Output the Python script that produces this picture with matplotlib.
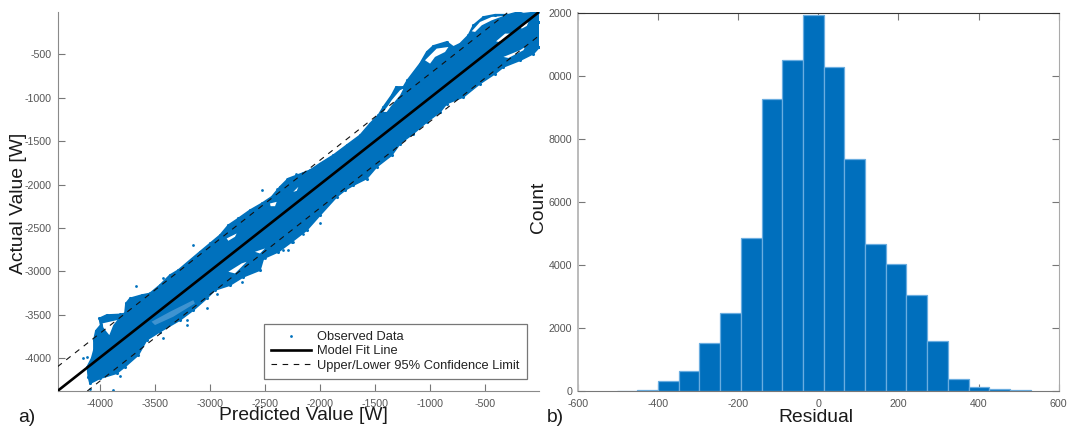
import matplotlib
matplotlib.use('Agg')
import matplotlib.pyplot as plt

plt.rcParams['font.family'] = ['Liberation Sans', 'DejaVu Sans']
plt.rcParams['axes.unicode_minus'] = False

W, H = 1075, 432
BLUE = '#0071BD'

# outline of the observed cloud (too dense to read single points)
upper_edge_x = [-4106, -4115, -4076, -4055, -4055, -4037, -3994, -4006, -3940, -3818, -3773, -3764,
                -3727, -3621, -3546, -3455, -3364, -3288, -3091, -3000, -2909, -2833, -2743, -2636,
                -2530, -2439, -2364, -2288, -2152, -2091, -2000, -1879, -1758, -1636, -1545, -1470,
                -1424, -1349, -1309, -1242, -1206, -1091, -1030, -970, -849, -788, -727, -652,
                -606, -515, -409, -288, -197, -152, -15, -6]
upper_edge_y = [-4215, -4100, -4004, -3908, -3792, -3685, -3620, -3543, -3504, -3497, -3485, -3370,
                -3312, -3274, -3255, -3159, -3044, -2986, -2775, -2679, -2583, -2468, -2391, -2295,
                -2218, -2141, -2026, -1930, -1865, -1834, -1757, -1661, -1546, -1431, -1296, -1200,
                -1104, -970, -874, -874, -797, -605, -471, -401, -355, -413, -375, -279,
                -163, -67, -41, -41, -10, -29, -10, -125]
lower_edge_x = [-6, -61, -182, -333, -409, -546, -697, -849, -909, -1030, -1152, -1273, -1349, -1485,
                -1576, -1697, -1773, -1849, -2000, -2121, -2258, -2379, -2515, -2546, -2697, -2818,
                -2955, -3031, -3152, -3273, -3455, -3576, -3652, -3773, -3849, -4000, -4091]
lower_edge_y = [-413, -490, -567, -643, -720, -835, -989, -1066, -1162, -1277, -1411, -1527, -1661, -1795,
                -1930, -2007, -2064, -2141, -2352, -2525, -2660, -2775, -2852, -2986, -3063, -3159,
                -3216, -3312, -3447, -3562, -3696, -3792, -3965, -4100, -4176, -4234, -4292]

# white gaps inside the cloud
gaps = [
    ([-3976, -3843, -3879, -3915, -3940, -3970], [-3600, -3562, -3620, -3735, -3696, -3646]),
    ([-2849, -2758, -2773, -2833], [-2621, -2564, -2602, -2648]),
    ([-2455, -2394, -2409, -2449], [-2218, -2199, -2249, -2249]),
    ([-2243, -2197, -2212], [-2084, -2026, -2072]),
    ([-2833, -2712, -2667, -2773], [-3005, -2909, -2890, -3024]),
    ([-2591, -2500, -2546], [-2775, -2736, -2794]),
    ([-1424, -1379, -1349, -1273, -1242, -1273, -1349, -1394], [-1162, -1085, -1027, -912, -893, -970, -1085, -1162]),
    ([-1046, -940, -833, -864, -955, -1000], [-567, -432, -413, -471, -528, -605]),
    ([-621, -546, -440, -333, -440, -530, -591], [-232, -125, -67, -56, -106, -163, -240]),
    ([-400, -318, -273, -309, -379], [-348, -259, -259, -317, -355]),
    ([-333, -182, -136, -152, -288], [-528, -451, -413, -451, -540]),
    ([-182, -106, -121, -167], [-183, -125, -171, -202]),
]
# speckled, half empty part below the fit line
sparse_x = [-3531, -3364, -3152, -3137, -3334, -3500]
sparse_y = [-3581, -3466, -3332, -3370, -3524, -3620]

# stray points outside the cloud
stray_x = [-3673, -4152, -4121, -3212, -3212, -3425, -3879, -2524, -2000, -2152, -2288, -2333,
           -2500, -2712, -2243, -3151, -3424, -2940, -3030, -2297, -2218, -2394, -4091, -3818]
stray_y = [-3170, -4004, -3992, -3620, -3562, -3773, -4368, -2064, -2441, -2564, -2756, -2756,
           -2852, -3120, -2660, -2702, -3074, -3266, -3420, -1934, -1880, -2046, -4361, -4207]

fit_x = [-4386, -10]
fit_y = [-4380, -10]
upper_x = [-4386, -288]
upper_y = [-4100, -10]
lower_x = [-4115, -7]
lower_y = [-4380, -280]

pred_ticks = [-4000, -3500, -3000, -2500, -2000, -1500, -1000, -500]
actual_ticks = [-4000, -3500, -3000, -2500, -2000, -1500, -1000, -500]

# residual histogram
bin_edges = [-503, -452, -400, -348, -297, -245, -193, -141, -90, -38, 14, 65, 117, 169, 220,
             272, 324, 376, 427, 479, 531]
counts = [10, 30, 317, 644, 1522, 2463, 4850, 9247, 10483, 11910, 10261, 7354, 4660, 4016, 3033,
          1575, 370, 137, 55, 20]
res_ticks = [-600, -400, -200, 0, 200, 400, 600]
count_ticks = [0, 2000, 4000, 6000, 8000, 10000, 12000]
# the leading digit of the last two labels is cut off in the original
count_labels = ['0', '2000', '4000', '6000', '8000', '0000', '2000']


def px_axes(fig, x0, y0, x1, y1):
    return fig.add_axes([x0 / W, 1 - y1 / H, (x1 - x0) / W, (y1 - y0) / H])


fig = plt.figure(figsize=(W / 100, H / 100), dpi=100)

ax = px_axes(fig, 57.5, 12, 539, 391)
ax.fill(upper_edge_x + lower_edge_x, upper_edge_y + lower_edge_y, color=BLUE, lw=1.2, zorder=1)
ax.fill(sparse_x, sparse_y, color='#3f93d0', lw=0, zorder=1.4)
for gx, gy in gaps:
    ax.fill(gx, gy, color='white', lw=0, zorder=1.5)
ax.scatter(upper_edge_x + lower_edge_x, upper_edge_y + lower_edge_y, s=5, color=BLUE, lw=0, zorder=1.6)
ax.scatter(stray_x, stray_y, s=4, color=BLUE, lw=0, zorder=1.6, label='Observed Data')
ax.plot(fit_x, fit_y, color='black', lw=1.9, zorder=3, label='Model Fit Line')
ax.plot(upper_x, upper_y, color='#111111', lw=0.8, ls=(0, (5, 5)), zorder=3,
        label='Upper/Lower 95% Confidence Limit')
ax.plot(lower_x, lower_y, color='#111111', lw=0.8, ls=(0, (5, 5)), zorder=3)
ax.set_xlim(-4386, -10)
ax.set_ylim(-4380, -10)
ax.set_xticks(pred_ticks)
ax.set_yticks(actual_ticks)
for s in ['top', 'right']:
    ax.spines[s].set_visible(False)
for s in ['left', 'bottom']:
    ax.spines[s].set_color('#8a8a8a')
ax.tick_params(direction='in', length=5, width=0.8, color='#777777', labelcolor='#555555',
               labelsize=7.7, pad=4)
ax.tick_params(axis='x', pad=6)
leg = ax.legend(loc='upper left', bbox_to_anchor=((264 - 57.5) / 481.5, (391 - 323.5) / 379),
                fontsize=9.3, frameon=True, fancybox=False, framealpha=1,
                edgecolor='#777777', borderpad=0.55, labelspacing=0.2, handlelength=3.1,
                handletextpad=0.46, borderaxespad=0)
leg.get_frame().set_linewidth(0.9)
for t in leg.get_texts():
    t.set_color('#222222')

ax2 = px_axes(fig, 578, 12.5, 1058.7, 391)
ax2.bar(bin_edges[:-1], counts, width=[b - a for a, b in zip(bin_edges[:-1], bin_edges[1:])],
        align='edge', color='#006FBD', edgecolor='#6AADE0', lw=0.9, zorder=2)
ax2.set_axisbelow(True)
ax2.set_xlim(-600, 600)
ax2.set_ylim(0, 12000)
ax2.set_xticks(res_ticks)
ax2.set_yticks(count_ticks)
ax2.set_yticklabels(count_labels)
ax2.tick_params(direction='in', length=5, width=0.8, color='#777777', labelcolor='#555555',
                labelsize=7.7, pad=4, top=True, right=True)
ax2.tick_params(axis='x', pad=6)
ax2.spines['top'].set_color('#333333')
ax2.spines['left'].set_color('#bbbbbb')
ax2.spines['left'].set_linewidth(1.4)
ax2.spines['right'].set_color('#aaaaaa')
ax2.spines['bottom'].set_color('#777777')


def label(x, y, text, size=13.9, rotation=0):
    fig.text(x / W, 1 - y / H, text, fontsize=size, rotation=rotation, ha='center', va='center',
             color='#1a1a1a')


label(303, 416, 'Predicted Value [W]')
label(19, 203, 'Actual Value [W]', rotation=90)
label(816, 418, 'Residual')
label(539, 207, 'Count', rotation=90)
label(27, 417, 'a)')
label(555, 417, 'b)')

fig.savefig('out.png', dpi=100)
